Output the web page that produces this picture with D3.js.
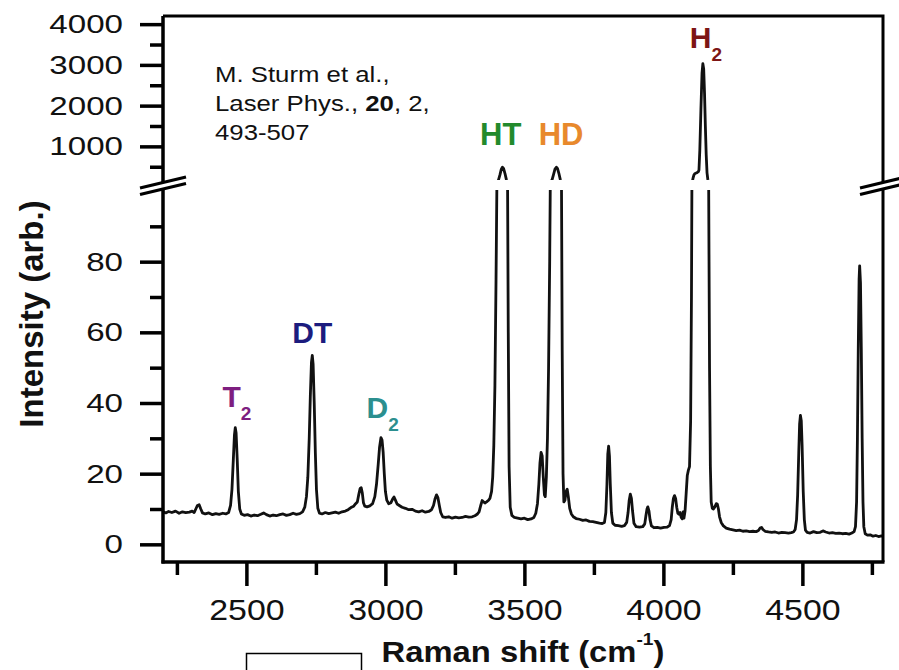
<!DOCTYPE html>
<html>
<head>
<meta charset="utf-8">
<script src="https://cdn.jsdelivr.net/npm/d3@7"></script>
<style>
  body { margin: 0; background: #fff; }
  svg { display: block; font-family: "Liberation Sans", Arial, sans-serif; }
</style>
</head>
<body>
<svg id="chart" width="899" height="670"></svg>
<script>
// Raman spectrum of a hydrogen isotopologue mix
const ramanShift = [
  2200, 2210, 2220, 2232, 2245, 2258, 2270, 2282, 2295, 2305, 2312, 2318, 2324, 2330, 2336, 2342,
  2352, 2365, 2378, 2390, 2402, 2415, 2426, 2436, 2443, 2448, 2453, 2457, 2460, 2463, 2467, 2471,
  2476, 2482, 2492, 2504, 2516, 2528, 2540, 2552, 2562, 2572, 2584, 2596, 2608, 2620, 2632, 2644,
  2656, 2668, 2680, 2692, 2702, 2710, 2716, 2721, 2726, 2730, 2734, 2737, 2740, 2744, 2748, 2752,
  2757, 2763, 2772, 2784, 2796, 2808, 2820, 2832, 2844, 2856, 2866, 2876, 2886, 2893, 2899, 2904,
  2909, 2913, 2917, 2921, 2926, 2934, 2944, 2954, 2962, 2968, 2974, 2979, 2984, 2988, 2992, 2996,
  3000, 3005, 3012, 3020, 3026, 3031, 3036, 3042, 3050, 3060, 3072, 3084, 3096, 3108, 3120, 3132,
  3144, 3156, 3166, 3173, 3179, 3184, 3189, 3194, 3199, 3206, 3216, 3228, 3240, 3252, 3264, 3276,
  3288, 3300, 3312, 3322, 3330, 3337, 3343, 3348, 3353, 3358, 3364, 3370, 3376, 3382, 3386, 3390,
  3394, 3398, 3402, 3407, 3412, 3417, 3421, 3425, 3430, 3435, 3439, 3442, 3445, 3449, 3455, 3464,
  3476, 3488, 3500, 3512, 3524, 3534, 3541, 3547, 3552, 3556, 3560, 3564, 3568, 3572, 3575, 3579,
  3583, 3587, 3591, 3595, 3600, 3605, 3610, 3615, 3619, 3624, 3629, 3633, 3636, 3639, 3642, 3646,
  3650, 3654, 3658, 3663, 3669, 3676, 3686, 3698, 3710, 3722, 3734, 3746, 3758, 3770, 3780, 3788,
  3793, 3797, 3800, 3803, 3806, 3809, 3813, 3818, 3826, 3838, 3850, 3860, 3868, 3873, 3877, 3881,
  3885, 3889, 3894, 3902, 3914, 3926, 3933, 3937, 3941, 3944, 3948, 3952, 3957, 3966, 3978, 3990,
  4002, 4014, 4022, 4028, 4032, 4036, 4040, 4044, 4048, 4052, 4056, 4060, 4064, 4068, 4071, 4074,
  4078, 4082, 4086, 4090, 4094, 4098, 4101, 4104, 4107, 4110, 4114, 4118, 4122, 4126, 4128, 4131,
  4135, 4139, 4142, 4145, 4148, 4151, 4154, 4157, 4160, 4163, 4166, 4169, 4172, 4176, 4180, 4185,
  4190, 4194, 4198, 4202, 4208, 4216, 4226, 4238, 4250, 4262, 4274, 4286, 4298, 4310, 4322, 4334,
  4342, 4348, 4353, 4358, 4366, 4378, 4390, 4402, 4414, 4426, 4438, 4450, 4460, 4468, 4474, 4479,
  4483, 4487, 4490, 4493, 4496, 4499, 4503, 4507, 4511, 4517, 4528, 4540, 4552, 4564, 4574, 4584,
  4596, 4608, 4620, 4632, 4644, 4656, 4668, 4678, 4686, 4691, 4695, 4698, 4701, 4704, 4706, 4709,
  4712, 4715, 4718, 4721, 4726, 4734, 4744, 4754, 4764, 4774, 4784, 4790
];
const intensity = [
  9.2, 8.9, 9.3, 9.0, 9.4, 8.8, 9.2, 9.0, 9.1, 9.4, 9.0, 10.0, 11.0, 11.2, 10.0, 8.9,
  8.6, 8.9, 8.4, 8.7, 8.5, 8.8, 8.6, 9.0, 11.0, 15.5, 24.0, 31.0, 33.0, 31.5, 24.0, 15.0,
  10.0, 8.6, 8.2, 8.4, 8.0, 8.3, 8.1, 8.5, 8.9, 8.4, 8.0, 8.3, 8.1, 8.4, 8.6, 8.2,
  8.4, 8.8, 8.5, 8.7, 9.2, 10.5, 13.5, 19.0, 30.0, 42.0, 51.5, 53.5, 51.0, 40.0, 26.0, 15.5,
  10.2, 8.8, 8.6, 9.0, 8.7, 8.9, 9.1, 8.8, 9.2, 9.4, 9.8, 10.4, 10.8, 11.5, 12.0, 14.0,
  15.8, 16.0, 14.5, 11.8, 10.8, 10.6, 10.9, 11.5, 13.5, 17.0, 22.5, 27.5, 30.2, 29.5, 26.0, 20.0,
  15.0, 12.5, 11.5, 11.8, 12.8, 13.4, 12.5, 11.4, 11.0, 10.5, 10.2, 9.8, 9.9, 9.4, 9.2, 9.5,
  9.1, 9.3, 9.8, 11.0, 13.0, 14.0, 13.2, 11.0, 9.0, 7.8, 7.6, 7.8, 7.4, 7.7, 7.5, 7.6,
  7.9, 7.7, 7.8, 8.1, 8.5, 9.2, 11.0, 12.4, 12.0, 11.7, 12.0, 12.4, 13.0, 15.0, 19.0, 28.0,
  45, 75, 110, 180, 300, 440, 488, 460, 340, 190, 110, 60, 22, 10.5, 8.2, 7.6,
  7.4, 7.2, 7.4, 7.0, 7.2, 7.6, 8.8, 11.5, 17.0, 23.0, 26.0, 25.0, 19.0, 14.0, 13.5, 19.0,
  30, 50, 80, 120, 190, 310, 440, 488, 460, 340, 190, 110, 55, 20, 12.0, 12.5,
  15.0, 15.6, 13.5, 10.2, 8.6, 7.8, 7.3, 7.1, 6.8, 6.9, 6.5, 6.4, 6.2, 6.0, 5.9, 6.2,
  9.0, 17.0, 25.5, 27.8, 25.0, 17.0, 9.0, 6.0, 5.4, 5.3, 5.1, 5.3, 6.2, 9.0, 12.5, 14.2,
  13.0, 9.5, 6.0, 5.0, 4.9, 5.0, 5.8, 8.0, 10.0, 10.6, 9.5, 7.0, 5.2, 4.7, 4.8, 4.6,
  4.8, 4.9, 5.3, 7.0, 10.5, 13.0, 13.8, 13.0, 10.5, 8.8, 8.5, 9.0, 7.6, 7.2, 9.2, 7.4,
  9.5, 14.5, 19.5, 21.0, 22.0, 35, 70, 130, 230, 300, 335, 345, 360, 380, 420, 900,
  1900, 2800, 3030, 2900, 2300, 1500, 800, 350, 180, 100, 50, 22, 12.0, 10.2, 10.0, 10.6,
  11.5, 11.4, 10.0, 7.8, 6.2, 5.2, 4.6, 4.3, 4.1, 3.9, 4.0, 3.7, 3.8, 3.6, 3.7, 3.6,
  3.9, 4.6, 4.8, 4.2, 3.7, 3.5, 3.4, 3.5, 3.2, 3.4, 3.3, 3.2, 3.3, 3.5, 4.2, 7.0,
  14.0, 26.0, 34.0, 36.5, 35.0, 28.0, 15.0, 7.0, 4.0, 3.4, 3.2, 3.6, 3.3, 3.4, 3.8, 3.5,
  3.2, 3.3, 3.1, 3.2, 3.0, 3.1, 2.9, 3.2, 3.6, 5.0, 12.0, 30.0, 55.0, 75.0, 78.8, 74.0,
  55.0, 30.0, 12.0, 5.0, 3.0, 2.6, 2.7, 2.3, 2.5, 2.2, 2.4, 2.3
];

const xTicksMajor = [2500, 3000, 3500, 4000, 4500];
const xTicksMinor = [2250, 2750, 3250, 3750, 4250, 4750];
const lowTicksMajor = [0, 20, 40, 60, 80];
const lowTicksMinor = [10, 30, 50, 70, 90];
const highTicksMajor = [1000, 2000, 3000, 4000];
const highTicksMinor = [500, 1500, 2500, 3500];

// peak labels: name, subscript, anchor (shift, intensity), colour
const peakNames = ["T", "DT", "D", "HT", "HD", "H"];
const peakSubs = ["2", "", "2", "", "", "2"];
const peakAtShift = [2466, 2737, 2990, 3415, 3632, 4153];
const peakAtValue = [38.9, 57, 35.7, 1034, 1034, 3415];
const peakColors = ["#7e1e80", "#1c1c7e", "#2b8f8f", "#238a2c", "#e8892c", "#7d1515"];

const citation = ["M. Sturm et al.,", "Laser Phys., ", "20", ", 2,", "493-507"];

const svg = d3.select("#chart");
const plot = { left: 163, right: 883, top: 16, bottom: 562 };

const x = d3.scaleLinear().domain([2200, 4790]).range([plot.left, plot.right]);
const yLow = d3.scaleLinear().domain([-5, 100]).range([plot.bottom, 191]);
const yHigh = d3.scaleLinear().domain([150, 4200]).range([181, plot.top]);

// clip regions for the two parts of the broken axis
const defs = svg.append("defs");
defs.append("clipPath").attr("id", "clipLow")
  .append("rect").attr("x", plot.left).attr("y", 190)
  .attr("width", plot.right - plot.left).attr("height", plot.bottom - 190);
defs.append("clipPath").attr("id", "clipHigh")
  .append("rect").attr("x", plot.left).attr("y", plot.top)
  .attr("width", plot.right - plot.left).attr("height", 180 - plot.top);

const idx = d3.range(ramanShift.length);
const lineLow = d3.line().x(i => x(ramanShift[i])).y(i => yLow(intensity[i]));
const lineHigh = d3.line().x(i => x(ramanShift[i])).y(i => yHigh(intensity[i]));

svg.append("path").datum(idx).attr("d", lineLow)
  .attr("clip-path", "url(#clipLow)")
  .attr("fill", "none").attr("stroke", "#111").attr("stroke-width", 2.8)
  .attr("stroke-linejoin", "round");
svg.append("path").datum(idx).attr("d", lineHigh)
  .attr("clip-path", "url(#clipHigh)")
  .attr("fill", "none").attr("stroke", "#111").attr("stroke-width", 2.8)
  .attr("stroke-linejoin", "round");

// axes ---------------------------------------------------------------
function styleTicks(g) {
  g.select(".domain").remove();
  g.selectAll(".tick line").attr("stroke", "#000").attr("stroke-width", 3.5);
  g.attr("font-family", null).attr("font-size", null);
}

const yLabelSx = 1.25;
[[yLow, lowTicksMajor, lowTicksMinor], [yHigh, highTicksMajor, highTicksMinor]].forEach(([sc, major, minor]) => {
  svg.append("g").attr("transform", `translate(${plot.left},0)`)
    .call(d3.axisLeft(sc).tickValues(minor).tickSize(13).tickFormat(""))
    .call(styleTicks);
  svg.append("g").attr("transform", `translate(${plot.left},0)`)
    .call(d3.axisLeft(sc).tickValues(major).tickSize(23).tickFormat(d3.format("d")))
    .call(styleTicks)
    .selectAll("text")
    .attr("x", -40 / yLabelSx)
    .attr("transform", `scale(${yLabelSx},1)`)
    .attr("fill", "#111")
    .style("font-size", "26.5px");
});

const xLabelSx = 1.13;
svg.append("g").attr("transform", `translate(0,${plot.bottom})`)
  .call(d3.axisBottom(x).tickValues(xTicksMinor).tickSize(13).tickFormat(""))
  .call(styleTicks);
svg.append("g").attr("transform", `translate(0,${plot.bottom})`)
  .call(d3.axisBottom(x).tickValues(xTicksMajor).tickSize(24).tickFormat(d3.format("d")))
  .call(styleTicks)
  .selectAll("text")
  .attr("y", 58).attr("dy", null)
  .attr("transform", `scale(${xLabelSx},1)`)
  .attr("fill", "#111")
  .style("font-size", "30px");

// frame with a gap at the axis break
const frame = svg.append("g").attr("stroke", "#000").attr("fill", "none");
frame.append("path").attr("stroke-width", 3.5)
  .attr("d", `M${plot.left},${plot.top} V183 M${plot.left},188 V${plot.bottom + 1.5}`);
frame.append("path").attr("stroke-width", 3.5)
  .attr("d", `M${plot.left - 1.5},${plot.bottom} H${plot.right + 1.5}`);
frame.append("path").attr("stroke-width", 3)
  .attr("d", `M${plot.left},${plot.top} H${plot.right} V183 M${plot.right},188 V${plot.bottom}`);

// break marks
[plot.left, plot.right].forEach(cx => {
  [182.5, 189].forEach(cy => {
    frame.append("line").attr("stroke-width", 3.2)
      .attr("x1", cx - 23).attr("y1", cy + 5.5)
      .attr("x2", cx + 23).attr("y2", cy - 5.5);
  });
});

// axis titles
svg.append("text")
  .attr("transform", "translate(43,314) rotate(-90)")
  .attr("text-anchor", "middle")
  .attr("font-weight", "bold").attr("font-size", 33).attr("fill", "#111")
  .text("Intensity (arb.)");

const xTitle = svg.append("g").attr("transform", "translate(523,662) scale(1.13,1)")
  .append("text")
  .attr("text-anchor", "middle")
  .attr("font-weight", "bold").attr("font-size", 29).attr("fill", "#111");
xTitle.append("tspan").text("Raman shift (cm");
xTitle.append("tspan").attr("font-size", 17).attr("dy", -17).text("-1");
xTitle.append("tspan").attr("dy", 17).text(")");

// peak labels
peakNames.forEach((name, i) => {
  const big = peakAtValue[i] > 100;
  const t = svg.append("text")
    .attr("x", x(peakAtShift[i]))
    .attr("y", big ? yHigh(peakAtValue[i]) : yLow(peakAtValue[i]))
    .attr("text-anchor", "middle")
    .attr("font-weight", "bold")
    .attr("font-size", name === "HT" || name === "HD" ? 31 : 30)
    .attr("fill", peakColors[i]);
  t.append("tspan").text(name);
  if (peakSubs[i]) t.append("tspan").attr("font-size", 19).attr("dy", 13).text(peakSubs[i]);
});

// citation
const cite = svg.append("g").attr("transform", "translate(215,82) scale(1.12,1)")
  .append("text").attr("font-size", 23).attr("fill", "#111");
cite.append("tspan").attr("x", 0).attr("y", 0).text(citation[0]);
cite.append("tspan").attr("x", 0).attr("y", 29).text(citation[1]);
cite.append("tspan").attr("font-weight", "bold").text(citation[2]);
cite.append("tspan").text(citation[3]);
cite.append("tspan").attr("x", 0).attr("y", 58).text(citation[4]);

// stray empty box below the axis in the original figure
svg.append("rect")
  .attr("x", 246.5).attr("y", 653.5).attr("width", 115).attr("height", 30)
  .attr("fill", "none").attr("stroke", "#000").attr("stroke-width", 1.5);
</script>
</body>
</html>
